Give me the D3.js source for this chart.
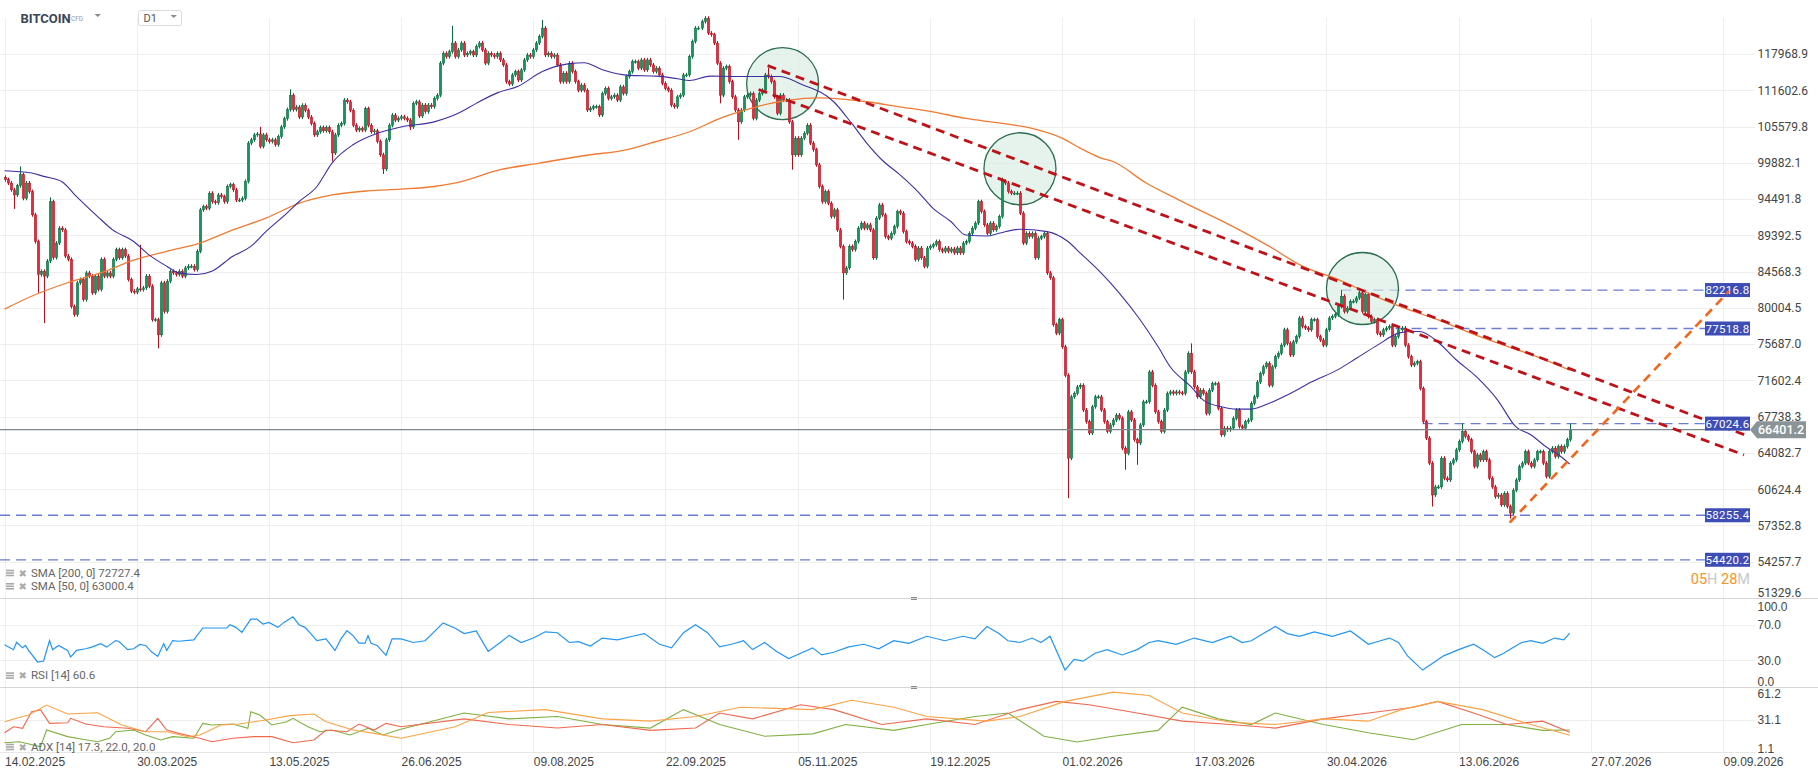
<!DOCTYPE html>
<html>
<head>
<meta charset="utf-8">
<title>BITCOIN D1</title>
<script src="https://cdn.jsdelivr.net/npm/d3@7/dist/d3.min.js"></script>
<style>
  body { margin: 0; background: #fff; }
  svg { display: block; font-family: Roboto, "Noto Sans", sans-serif; }
</style>
</head>
<body>
<svg id="chart" width="1818" height="779"></svg>
<script>
// ---- data ----
const startDay = "2025-02-14";
const firstOpen = 97680;
// daily closes, one per day from startDay
const closes = [
  97340, 96840, 95840, 95090, 96440, 98090, 94600, 96840, 95580, 92250,   // 0
  88550, 84190, 84610, 83980, 85950, 94110, 86400, 88340, 90380, 90140,
  86600, 86170, 80170, 79170, 83130, 83550, 81020, 84400, 83980, 81870,
  83980, 82280, 86170, 83980, 84400, 83980, 86170, 87460, 86370, 87460,
  86600, 83550, 82070, 81940, 82370, 82280, 82490, 83980, 82700, 78570,
  78570, 76770, 83130, 79560, 83340, 84610, 84400, 84190, 84610, 83980,   // 50
  85050, 85270, 85270, 84830, 87240, 92950, 93410, 93180, 95340, 94110,
  93970, 95090, 94840, 94110, 96340, 96590, 95840, 94350, 94350, 94590,
  97080, 102940, 103460, 104240, 104390, 102410, 104240, 103460, 103190, 103460,
  102680, 103960, 105520, 106860, 108350, 110770, 108350, 108780, 107120, 109060,
  108230, 107120, 106070, 104240, 104740, 105420, 104900, 105420, 104740, 101390, // 100
  104240, 105790, 106070, 109940, 109660, 108230, 105790, 105010, 105270, 105010,
  108510, 105790, 104740, 104900, 103190, 101120, 98940, 103460, 105790, 107450,
  106620, 106910, 107170, 106910, 106630, 105520, 109390, 109660, 107290, 109110,
  108000, 109110, 108830, 110220, 110770, 116330, 118090, 117490, 118400, 119960,
  117490, 118710, 119960, 117790, 118090, 118400, 117790, 119330, 119960, 118710, // 150
  116330, 118090, 117790, 117490, 118090, 116910, 116020, 113080, 112670, 114260,
  114840, 113370, 115140, 116910, 117790, 117490, 118710, 119960, 121180, 122740,
  117790, 118090, 117490, 117790, 116020, 113080, 114560, 113080, 116330, 114840,
  113080, 111600, 112490, 111600, 108280, 108560, 108830, 108830, 107460, 111050,
  111910, 110220, 110490, 110770, 109940, 112190, 111050, 113960, 114840, 116610, // 200
  116610, 115440, 116910, 115140, 116910, 116020, 114840, 115440, 114260, 112790,
  111910, 111600, 109110, 108830, 110490, 110770, 114260, 114260, 117490, 120250,
  122740, 122740, 123960, 124590, 121810, 121500, 119960, 116330, 110770, 115440,
  115730, 113080, 110490, 108280, 106340, 108280, 110490, 110770, 111050, 106910,
  109940, 111050, 111600, 114260, 113960, 113070, 110490, 107740, 110770, 109940, // 250
  109940, 106340, 101120, 103720, 101120, 103720, 104490, 105800, 102940, 101900,
  99580, 96330, 94110, 95590, 93890, 92000, 92950, 90140, 87890, 84400,
  85050, 87890, 87460, 88550, 90380, 91080, 90380, 90840, 90140, 86370,
  91780, 93650, 92240, 89210, 89000, 89670, 90600, 92710, 92480, 89900,
  88550, 88340, 87890, 86150, 87680, 86370, 85260, 87680, 87890, 88120,   // 300
  88550, 87460, 87240, 87680, 87240, 87550, 87030, 87680, 87030, 88340,
  88550, 89670, 90380, 91080, 94110, 92710, 90840, 89670, 91080, 90140,
  90600, 92000, 97080, 96840, 95590, 95350, 95350, 95350, 92480, 88340,
  89670, 89210, 89670, 86370, 89000, 89210, 89670, 84400, 83770, 77970,
  76970, 78570, 75380, 72170, 63570, 69830, 70190, 70890, 71070, 68430,   // 350
  67220, 66060, 68770, 69830, 69830, 68430, 67220, 66220, 66890, 67390,
  67900, 67560, 64560, 64050, 68240, 67390, 65390, 65060, 66890, 69300,
  69300, 72540, 71070, 68240, 67220, 66220, 68430, 70190, 70360, 70190,
  70360, 70260, 70190, 72540, 74630, 72540, 70890, 69830, 70540, 70190,
  68080, 70540, 71250, 71250, 68610, 65890, 66560, 66390, 66560, 67560,   // 400
  68430, 66720, 66560, 67220, 67390, 69140, 69830, 71420, 72360, 73110,
  73500, 71070, 73110, 74250, 74630, 75570, 77370, 75770, 74440, 75960,
  76560, 78770, 77760, 77570, 77370, 78570, 78570, 76560, 76170, 75570,
  77370, 78770, 78960, 79170, 80170, 81440, 79560, 79970, 80800, 80800,
  81230, 81870, 79560, 81650, 78960, 78360, 78570, 76970, 76770, 77370,   // 450
  77570, 77760, 75570, 76560, 77370, 77570, 75570, 74250, 73300, 73500,
  73680, 70720, 67220, 65560, 63090, 60090, 60840, 60840, 63570, 61650,
  61490, 63090, 63410, 64390, 65220, 66220, 65720, 65390, 64210, 62770,
  63890, 63410, 64210, 63410, 61650, 60840, 59930, 60090, 59190, 60240,
  59040, 58450, 60530, 61490, 62770, 63090, 64210, 63090, 62770, 63410,   // 500
  64210, 64210, 63090, 61810, 64210, 64560, 63730, 64720, 64210, 64720,
  65390, 66401.2
];
// long wicks that stand out: [day index, price]
const wickHigh = [[5, 99330], [15, 94740], [45, 88120], [85, 105540], [95, 111770], [149, 123170],
  [179, 124280], [233, 125000], [254, 115500], [332, 97640], [395, 75770], [445, 82217], [485, 67060], [521, 67024]];
const wickLow = [[3, 93080], [11, 81870], [13, 78170], [51, 75200], [109, 100080], [126, 98190],
  [135, 105010], [238, 109390], [244, 103460], [262, 98830], [279, 81020], [354, 59790],
  [373, 62450], [377, 62930], [475, 59040], [501, 57960]];

// moving averages and oscillators: [day index, value]
const sma50 = [[0,98680],[9,98340],[13,97830],[19,97080],[24,94840],[31,92000],[36,90140],[43,88550],[48,86800],[54,85260],
  [58,84400],[64,84190],[69,84610],[76,86580],[82,87890],[87,89900],[94,92480],[98,94110],[104,96330],[109,99840],
  [116,102680],[124,104490],[132,105520],[143,106340],[151,107740],[157,109390],[164,111160],[171,112310],[179,114840],
  [188,116240],[193,116410],[199,115170],[208,114170],[217,114050],[224,113580],[228,113280],[235,114050],[244,113990],
  [254,113990],[258,113990],[265,112700],[276,109660],[282,106080],[287,102940],[292,100350],[298,98090],[304,95590],
  [309,93190],[315,91300],[320,89430],[327,89300],[331,89670],[338,90230],[347,89900],[354,88550],[358,87030],
  [365,84400],[371,81870],[378,78570],[384,75380],[388,73110],[395,70890],[399,69480],[405,68770],[410,68530],
  [415,68530],[421,69140],[427,70020],[435,71420],[444,72820],[450,74070],[457,75570],[464,76970],[468,77170],
  [471,77170],[477,75970],[483,73960],[490,71980],[497,69480],[503,66720],[508,65890],[513,64710],[518,63730],[521,63000.4]];
const sma200 = [[0,79850],[9,81440],[21,83140],[32,84400],[43,86060],[54,87240],[65,88340],[76,90140],[87,91780],
  [98,93880],[109,95090],[121,95690],[132,95940],[143,96330],[151,96930],[165,98830],[178,99840],[195,101120],
  [206,101800],[215,102940],[228,104740],[239,107080],[250,108780],[261,109940],[271,110320],[287,109660],
  [298,108820],[309,107990],[320,106890],[331,106160],[342,105270],[352,103720],[358,102160],[365,100610],
  [369,100080],[380,96840],[391,94350],[411,90140],[421,87890],[432,85270],[444,83550],[455,81650],[466,79970],
  [477,78570],[488,76970],[499,75570],[510,74250],[521,72727.4]];
const rsi14 = [[0,47.4],[3,41.9],[4,50.3],[6,44.1],[7,46.7],[8,41.1],[11,28.1],[13,29.2],[15,52.2],[16,41.9],
  [18,46.7],[21,41.1],[22,33.7],[24,41.1],[27,43.0],[29,44.8],[32,48.6],[34,44.8],[37,52.2],[38,51.4],[41,41.9],
  [43,43.0],[45,47.8],[47,46.7],[49,39.2],[51,34.4],[53,48.6],[54,41.1],[56,52.2],[58,51.4],[63,53.0],[66,66.3],
  [69,66.3],[74,66.3],[75,70.0],[77,67.0],[79,61.4],[82,76.3],[84,76.3],[86,70.8],[88,72.6],[91,67.0],[93,72.6],
  [96,78.9],[98,70.0],[100,67.0],[102,59.7],[104,52.2],[107,54.1],[110,41.1],[112,54.1],[114,63.3],[116,57.8],
  [118,49.2],[120,49.2],[121,57.8],[122,49.2],[124,46.7],[127,35.6],[129,54.1],[132,54.1],[136,50],[140,52],[146,72],
  [150,66],[153,60],[157,63],[161,40],[165,50],[168,58],[172,50],[176,55],[180,62],[184,61],[188,50],[191,51],[195,46],
  [199,55],[204,53],[209,57],[213,60],[218,48],[222,44],[226,61],[230,70],[234,61],[238,45],[242,48],[246,52],
  [249,42],[253,50],[257,40],[261,32],[265,38],[269,44],[272,36],[276,39],[281,45],[286,48],[291,43],[296,52],
  [301,49],[307,57],[313,52],[319,57],[323,54],[327,68],[331,60],[334,52],[338,50],[342,55],[345,50],[348,57],
  [353,19],[356,31],[359,29],[363,38],[367,42],[372,36],[377,42],[381,50],[384,52],[390,48],[396,55],[402,50],
  [408,57],[412,50],[415,52],[419,60],[423,68],[427,60],[431,57],[436,62],[442,57],[448,63],[454,48],[458,52],
  [461,55],[464,50],[467,35],[472,19],[476,28],[479,35],[484,42],[489,48],[493,40],[496,33],[499,38],[502,44],
  [505,50],[508,52],[512,49],[516,55],[519,53],[521,60.6]];
const adx14 = [[0,29.6],[4,32.7],[8,35.7],[14,44.8],[21,36.6],[31,37.8],[39,26.6],[47,20.5],[54,20.5],[61,15.9],
  [65,17.5],[72,26.6],[78,27.5],[87,31.1],[95,35.1],[103,36.6],[107,29.6],[116,22.0],[123,19.0],[132,14.5],
  [150,25],[161,38],[180,40.6],[199,32.2],[215,30.1],[230,34.3],[245,42.8],[269,40.6],[282,49.1],[296,42.8],
  [307,34.3],[327,30.1],[338,34.3],[353,48.1],[369,56.5],[381,53.4],[392,37.5],[408,29.1],[423,27],[439,32.2],
  [454,30.1],[465,40.6],[477,48.1],[492,40.6],[508,27],[521,17.3]];
const diPlus = [[0,10.5],[5,11.4],[12,6.8],[14,22.0],[21,16.0],[26,13.6],[31,11.4],[35,14.5],[37,20.5],[43,22.0],
  [47,17.5],[52,12.9],[56,16.0],[63,14.5],[66,28.1],[69,26.6],[76,27.5],[81,23.6],[82,38.7],[85,35.7],[89,26.6],
  [94,29.6],[96,32.7],[101,25.0],[105,20.5],[109,22.0],[115,17.5],[121,23.6],[126,17.5],[131,22.0],[153,37.5],
  [168,32.2],[184,34.3],[199,27],[215,23.8],[226,40.6],[238,27],[253,16.4],[269,18.5],[280,27],[296,21.7],
  [307,27],[323,34.3],[334,37.5],[346,16.4],[357,11.1],[369,16.4],[384,21.7],[392,42.8],[404,32.2],[415,27],
  [423,37.5],[439,27],[454,19.6],[469,13.2],[485,27],[500,27],[512,21.7],[521,22.0]];
const diMinus = [[0,19.6],[3,25.0],[6,23.6],[9,38.7],[12,40.3],[15,28.1],[21,28.7],[22,32.7],[27,27.5],[33,25.0],
  [41,23.6],[44,22.0],[47,20.5],[51,32.7],[54,22.0],[58,19.0],[65,14.5],[69,11.4],[76,14.5],[83,16.0],[89,16.0],
  [96,10.5],[103,12.9],[107,22.0],[114,20.5],[118,27.5],[123,22.0],[127,28.1],[132,25.0],[153,32.2],[168,27],
  [184,23.8],[199,27],[215,21.7],[230,23.8],[238,37.5],[249,32.2],[265,45],[276,40.6],[292,27],[307,32.2],
  [323,27],[338,40.6],[350,48.1],[361,45],[377,37.5],[392,30.1],[408,27],[423,23.8],[439,32.2],[454,37.5],
  [469,42.8],[477,48.1],[489,37.5],[500,27],[512,30.1],[521,20.0]];

// axes
const priceTicks = [117968.9, 111602.6, 105579.8, 99882.1, 94491.8, 89392.5, 84568.3, 80004.5, 75687.0,
  71602.4, 67738.3, 64082.7, 60624.4, 57352.8, 54257.7, 51329.6];
const dateTicks = ["14.02.2025", "30.03.2025", "13.05.2025", "26.06.2025", "09.08.2025", "22.09.2025", "05.11.2025",
  "19.12.2025", "01.02.2026", "17.03.2026", "30.04.2026", "13.06.2026", "27.07.2026", "09.09.2026"];
const rsiTicks = [100, 70, 30, 0];
const adxTicks = [61.2, 31.1, 1.1];

// drawings
const levels = [82216.8, 77518.8, 67024.6, 58255.4, 54420.2];
const levelFrom = [445, 463, 472, -2, -2];
const resistLines = [[[254, 115900], [580, 65790]], [[251, 111730], [579, 63890]]];
const supportLine = [[501, 57600], [574, 82070]];
const circles = [[259, 112750], [338, 98980], [452, 82410]];
const lastPrice = 66401.2;

// ---- chart ----
const svg = d3.select("#chart");
const plotR = 1750, gridR = 1755, W = 1818;
const priceTop = 18, priceBot = 598, rsiBot = 687, adxBot = 753;

const t0 = d3.utcParse("%Y-%m-%d")(startDay);
const dayDate = d => new Date(t0.getTime() + d * 864e5);
const x = d3.scaleUtc().domain([dayDate(-1.5), dayDate(581)]).range([0, plotR]);
const y = d3.scaleLog().domain([51329.6, 124650]).range([priceBot, priceTop]);
const yRsi = d3.scaleLinear().domain([0, 100]).range([rsiBot, priceBot]);
const yAdx = d3.scaleLinear().domain([1.1, 61.2]).range([adxBot, rsiBot]);
const xd = d => x(dayDate(d));

const defs = svg.append("defs");
[["clipPrice", priceTop - 6, priceBot], ["clipRsi", priceBot, rsiBot], ["clipAdx", rsiBot, adxBot]].forEach(([id, a, b]) => {
  defs.append("clipPath").attr("id", id).append("rect").attr("x", 0).attr("y", a).attr("width", plotR).attr("height", b - a);
});

// grid
const dateVals = dateTicks.map(d3.utcParse("%d.%m.%Y"));
const grid = svg.append("g").attr("stroke", "#efefef").attr("stroke-width", 1);
grid.selectAll(".v").data(dateVals).join("line")
  .attr("x1", d => Math.round(x(d)) + 0.5).attr("x2", d => Math.round(x(d)) + 0.5)
  .attr("y1", priceTop).attr("y2", adxBot);
grid.selectAll(".h").data(priceTicks.slice(0, -1)).join("line")
  .attr("x1", 0).attr("x2", gridR).attr("y1", d => Math.round(y(d)) + 0.5).attr("y2", d => Math.round(y(d)) + 0.5);
grid.selectAll(".r").data([70, 30]).join("line")
  .attr("x1", 0).attr("x2", gridR).attr("y1", d => Math.round(yRsi(d)) + 0.5).attr("y2", d => Math.round(yRsi(d)) + 0.5);
grid.append("line").attr("x1", 0).attr("x2", gridR).attr("y1", Math.round(yAdx(31.1)) + 0.5).attr("y2", Math.round(yAdx(31.1)) + 0.5);
grid.append("line").attr("x1", 0).attr("x2", gridR).attr("y1", adxBot - 0.5).attr("y2", adxBot - 0.5).attr("stroke", "#e6e6e6");

// pane separators
svg.append("g").attr("stroke", "#d6d6d6").selectAll("line").data([priceBot, rsiBot]).join("line")
  .attr("x1", 0).attr("x2", W).attr("y1", d => d + 0.5).attr("y2", d => d + 0.5);
svg.append("g").attr("stroke", "#8a8a8a").selectAll("line").data([priceBot - 1, priceBot + 1, rsiBot - 1, rsiBot + 1]).join("line")
  .attr("x1", 911).attr("x2", 917).attr("y1", d => d + 0.5).attr("y2", d => d + 0.5);

// price pane
const pg = svg.append("g").attr("clip-path", "url(#clipPrice)");

// horizontal levels
levels.forEach((v, k) => {
  pg.append("line").attr("x1", Math.max(0, xd(levelFrom[k]))).attr("x2", 1705)
    .attr("y1", y(v)).attr("y2", y(v))
    .attr("stroke", "#5364cc").attr("stroke-width", 1.3).attr("stroke-dasharray", "10 6").attr("opacity", 0.85);
});

// circles
pg.selectAll(".circ").data(circles).join("circle")
  .attr("cx", d => xd(d[0])).attr("cy", d => y(d[1])).attr("r", 36)
  .attr("fill", "#d7ece2").attr("fill-opacity", 0.65).attr("stroke", "#2c6d4f").attr("stroke-width", 1.3);

// candles
const hiMap = new Map(wickHigh), loMap = new Map(wickLow);
const bars = closes.map((c, i) => {
  const o = i ? closes[i - 1] : firstOpen;
  return { i, o, c, up: c >= o, h: hiMap.get(i), l: loMap.get(i) };
});
const cg = pg.append("g");
cg.selectAll(".wick").data(bars).join("line")
  .attr("x1", d => Math.round(xd(d.i)) + 0.5).attr("x2", d => Math.round(xd(d.i)) + 0.5)
  .attr("y1", d => d.h ? y(d.h) : y(Math.max(d.o, d.c)) - 2)
  .attr("y2", d => d.l ? y(d.l) : y(Math.min(d.o, d.c)) + 2)
  .attr("stroke", d => d.up ? "#0d6a41" : "#b0101e").attr("stroke-width", 1);
cg.selectAll(".body").data(bars).join("rect")
  .attr("x", d => Math.round(xd(d.i)) - 0.7).attr("width", 2.4)
  .attr("y", d => y(Math.max(d.o, d.c)))
  .attr("height", d => Math.max(1, y(Math.min(d.o, d.c)) - y(Math.max(d.o, d.c))))
  .attr("fill", d => d.up ? "#16955d" : "#e42b3d")
  .attr("stroke", d => d.up ? "#0d6a41" : "#b0101e").attr("stroke-width", 0.5);

// moving averages
const maLine = d3.line().x(d => xd(d[0])).y(d => y(d[1])).curve(d3.curveMonotoneX);
pg.append("path").attr("d", maLine(sma200)).attr("fill", "none").attr("stroke", "#f27a33").attr("stroke-width", 1.3);
pg.append("path").attr("d", maLine(sma50)).attr("fill", "none").attr("stroke", "#3d2fa3").attr("stroke-width", 1.1);

// current price line
pg.append("line").attr("x1", 0).attr("x2", plotR).attr("y1", y(lastPrice)).attr("y2", y(lastPrice))
  .attr("stroke", "#7b878c").attr("stroke-width", 1.2);

// upper trend line
pg.append("line").attr("x1", xd(resistLines[0][0][0])).attr("y1", y(resistLines[0][0][1]))
  .attr("x2", xd(resistLines[0][1][0])).attr("y2", y(resistLines[0][1][1]))
  .attr("stroke", "#bf1218").attr("stroke-width", 2.8).attr("stroke-dasharray", "9 6");

// level labels
levels.forEach(v => {
  const g = svg.append("g").attr("transform", `translate(1705,${y(v)})`);
  g.append("rect").attr("x", 0).attr("y", -7).attr("width", 45).attr("height", 14).attr("fill", "#3e4db5");
  g.append("text").attr("x", 22.5).attr("y", 4).attr("text-anchor", "middle").attr("fill", "#fff")
    .attr("font-size", 11.5).attr("letter-spacing", 0.3).text(d3.format(".1f")(v));
});
// lower trend line and support line drawn over the labels
const tg = svg.append("g").attr("clip-path", "url(#clipPrice)");
tg.append("line").attr("x1", xd(resistLines[1][0][0])).attr("y1", y(resistLines[1][0][1]))
  .attr("x2", xd(resistLines[1][1][0])).attr("y2", y(resistLines[1][1][1]))
  .attr("stroke", "#bf1218").attr("stroke-width", 2.8).attr("stroke-dasharray", "9 6");
tg.append("line").attr("x1", xd(supportLine[0][0])).attr("y1", y(supportLine[0][1]))
  .attr("x2", xd(supportLine[1][0])).attr("y2", y(supportLine[1][1]))
  .attr("stroke", "#f2661c").attr("stroke-width", 2.6).attr("stroke-dasharray", "9 6");

// price axis
const yAxis = svg.append("g").attr("transform", `translate(1757.5,0)`)
  .call(d3.axisRight(y).tickValues(priceTicks).tickFormat(d3.format(".1f")).tickSize(0).tickPadding(0));
yAxis.select(".domain").remove();
yAxis.selectAll("text").attr("fill", "#444").attr("font-size", 12).attr("font-family", "Roboto, sans-serif")
  .attr("dy", d => d === 51329.6 ? "-0.1em" : "0.32em");

// last price tag
const ty = y(lastPrice);
svg.append("path").attr("d", `M1750,${ty} L1757,${ty - 8.5} L1806,${ty - 8.5} L1806,${ty + 8.5} L1757,${ty + 8.5} Z`)
  .attr("fill", "#8a9497");
svg.append("text").attr("x", 1758).attr("y", ty + 4.5).attr("fill", "#fff").attr("font-size", 12.5)
  .attr("font-weight", 500).text(d3.format(".1f")(lastPrice));

// countdown
const cd = svg.append("text").attr("x", 1750).attr("y", 583.5).attr("text-anchor", "end").attr("font-size", 14.5);
cd.append("tspan").attr("fill", "#f7941d").text("05");
cd.append("tspan").attr("fill", "#c9c9c9").text("H ");
cd.append("tspan").attr("fill", "#f7941d").text("28");
cd.append("tspan").attr("fill", "#c9c9c9").text("M");

// RSI pane
const line = sc => d3.line().x(d => xd(d[0])).y(d => sc(d[1]));
svg.append("path").attr("clip-path", "url(#clipRsi)").attr("d", line(yRsi)(rsi14))
  .attr("fill", "none").attr("stroke", "#2196f3").attr("stroke-width", 1.2);
const rAxis = svg.append("g").attr("transform", `translate(1757.5,0)`)
  .call(d3.axisRight(yRsi).tickValues(rsiTicks).tickFormat(d3.format(".1f")).tickSize(0).tickPadding(0));
rAxis.select(".domain").remove();
rAxis.selectAll("text").attr("fill", "#444").attr("font-size", 12)
  .attr("dy", d => d === 100 ? "1em" : d === 0 ? "-0.1em" : "0.32em");

// ADX pane
const ag = svg.append("g").attr("clip-path", "url(#clipAdx)").attr("fill", "none").attr("stroke-width", 1.1);
ag.append("path").attr("d", line(yAdx)(diPlus)).attr("stroke", "#7fb041");
ag.append("path").attr("d", line(yAdx)(diMinus)).attr("stroke", "#f0684f");
ag.append("path").attr("d", line(yAdx)(adx14)).attr("stroke", "#fba345");
const aAxis = svg.append("g").attr("transform", `translate(1757.5,0)`)
  .call(d3.axisRight(yAdx).tickValues(adxTicks).tickFormat(d3.format(".1f")).tickSize(0).tickPadding(0));
aAxis.select(".domain").remove();
aAxis.selectAll("text").attr("fill", "#444").attr("font-size", 12)
  .attr("dy", d => d === 61.2 ? "0.9em" : d === 1.1 ? "-0.05em" : "0.32em");

// date axis
const xAxis = svg.append("g").attr("transform", `translate(0,${adxBot})`)
  .call(d3.axisBottom(x).tickValues(dateVals).tickFormat(d3.utcFormat("%d.%m.%Y")).tickSize(0).tickPadding(4.5));
xAxis.select(".domain").remove();
xAxis.selectAll("text").attr("fill", "#444").attr("font-size", 12).attr("text-anchor", "start");

// legends
const legends = [
  [576.7, `SMA [200, 0] ${d3.format(".1f")(sma200[sma200.length - 1][1])}`],
  [590, `SMA [50, 0] ${d3.format(".1f")(sma50[sma50.length - 1][1])}`],
  [679.3, `RSI [14] ${d3.format(".1f")(rsi14[rsi14.length - 1][1])}`],
  [750.7, `ADX [14] ${[adx14, diPlus, diMinus].map(s => d3.format(".1f")(s[s.length - 1][1])).join(", ")}`]
];
legends.forEach(([by, txt]) => {
  const g = svg.append("g");
  [-7, -4.5, -2].forEach(dy => g.append("rect").attr("x", 6).attr("y", by + dy).attr("width", 8).attr("height", 1.6).attr("fill", "#a8a8a8"));
  g.append("text").attr("x", 18.5).attr("y", by).attr("font-size", 10).attr("fill", "#aaa")
    .attr("font-family", "DejaVu Sans").text("\u2716");
  g.append("text").attr("x", 31).attr("y", by).attr("font-size", 11.5).attr("fill", "#666").text(txt);
});

// header
const hd = svg.append("g");
hd.append("rect").attr("x", 0).attr("y", 0).attr("width", 400).attr("height", 17.5).attr("fill", "#fff");
hd.append("text").attr("x", 20.5).attr("y", 22.7).attr("font-size", 13).attr("font-weight", 700)
  .attr("fill", "#3b4654").text("BITCOIN");
hd.append("text").attr("x", 71).attr("y", 21.3).attr("font-size", 6.5).attr("fill", "#9a9a9a").text("CFD");
hd.append("path").attr("d", "M94.5,14 L101,14 L97.75,17 Z").attr("fill", "#8a8a8a");
hd.append("rect").attr("x", 138.5).attr("y", 10.5).attr("width", 43).attr("height", 15).attr("rx", 2)
  .attr("fill", "#fff").attr("stroke", "#dcdcdc");
hd.append("text").attr("x", 143.5).attr("y", 22.2).attr("font-size", 11).attr("fill", "#555").text("D1");
hd.append("path").attr("d", "M170.5,15 L177,15 L173.75,18 Z").attr("fill", "#8a8a8a");

if (closes.length !== 522) console.error("closes length", closes.length);
</script>
</body>
</html>
